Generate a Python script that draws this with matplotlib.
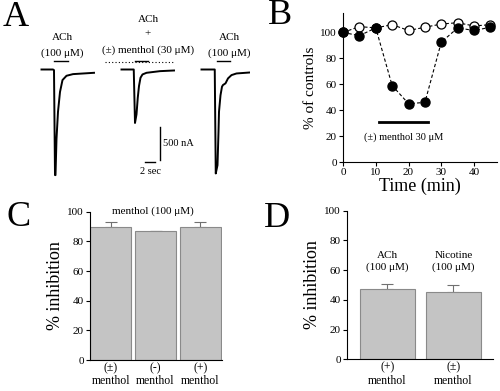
import matplotlib
matplotlib.use("Agg")
import matplotlib.pyplot as plt
import numpy as np

plt.rcParams['font.family'] = ['Liberation Serif', 'DejaVu Serif']
plt.rcParams['mathtext.fontset'] = 'stix'

W, H = 500, 391

# ---------------- data ----------------
# Panel A: current traces (time in s, current in nA)
trace1_t = [0, 2.3, 2.5, 2.7, 2.8, 3.0, 3.3, 3.7, 4.2, 5.0, 6.3, 10.5]
trace1_i = [0, 0, -10, -1600, -1600, -1050, -640, -340, -160, -95, -70, -50]
trace2_t = [0, 2.45, 2.7, 3.0, 3.25, 3.5, 3.8, 4.2, 5.0, 7.7, 10.5]
trace2_i = [0, 0, -810, -680, -430, -250, -125, -75, -50, -25, -15]
trace3_t = [0, 2.65, 2.85, 3.2, 3.4, 3.5, 3.8, 4.1, 4.3, 4.8, 5.3, 6.0, 7.0, 9.7]
trace3_i = [0, 0, -1575, -1450, -945, -640, -390, -260, -235, -210, -135, -85, -60, -45]
trace_offsets = [8.3, 24.3, 40.3]

# Panel B: time course
time_min = [0, 5, 10, 15, 20, 25, 30, 35, 40, 45]
open_vals = [100, 104.5, 103.5, 106, 101.5, 104, 106.5, 107.5, 105, 106]
filled_vals = [100, 97.5, 103.5, 59, 45, 46, 92.5, 103.5, 101.5, 104]
menthol_bar_min = [11, 26]

# Panel C
c_labels = ["(±)\nmenthol", "(-)\nmenthol", "(+)\nmenthol"]
c_vals = [90, 87.2, 89.5]
c_err = [3.3, 0.0, 3.7]

# Panel D
d_labels = ["(+)\nmenthol", "(±)\nmenthol"]
d_vals = [47, 45]
d_err = [4, 5]
d_agonists = ["ACh\n(100 μM)", "Nicotine\n(100 μM)"]


def px_rect(x0, y0, x1, y1):
    return [x0 / W, 1 - y1 / H, (x1 - x0) / W, (y1 - y0) / H]


def ft(x, y):
    return (x / W, 1 - y / H)


fig = plt.figure(figsize=(W / 100, H / 100), dpi=100)

# ---------------- Panel A ----------------
axA = fig.add_axes(px_rect(0, 0, 250, 195))
axA.set_xlim(0, 50)
axA.set_ylim(-(195 - 69.5) * 15.15, 69.5 * 15.15)
axA.axis('off')
for t, i, off in zip([trace1_t, trace2_t, trace3_t], [trace1_i, trace2_i, trace3_i], trace_offsets):
    axA.plot(np.array(t) + off, i, color='black', lw=1.4, solid_joinstyle='round')
# scale bars
axA.plot([32, 32], [-871, -1371], color='black', lw=1)
axA.plot([29, 31], [-1406, -1406], color='black', lw=1)
axA.text(32.6, -1121, "500 nA", fontsize=7.5, va='center', ha='left')
axA.text(30, -1550, "2 sec", fontsize=7.5, va='center', ha='center')
# application bars
axA.plot([10.8, 13.6], [128, 128], color='black', lw=1)
axA.plot([21, 34.6], [118, 118], color='black', lw=0.8, ls=(0, (1, 2)))
axA.plot([27.0, 29.6], [128, 128], color='black', lw=1)
axA.plot([43.4, 46.0], [128, 128], color='black', lw=1)
fig.text(*ft(62, 38), "ACh", fontsize=8, ha='center', va='center')
fig.text(*ft(62, 53), "(100 μM)", fontsize=8, ha='center', va='center')
fig.text(*ft(148, 20), "ACh", fontsize=8, ha='center', va='center')
fig.text(*ft(148, 34), "+", fontsize=8, ha='center', va='center')
fig.text(*ft(148, 50), "(±) menthol (30 μM)", fontsize=8, ha='center', va='center')
fig.text(*ft(229, 38), "ACh", fontsize=8, ha='center', va='center')
fig.text(*ft(229, 53), "(100 μM)", fontsize=8, ha='center', va='center')

# panel letters
for lab, (x, y) in zip("ABCD", [(16, 18), (280, 16), (19, 217), (277, 218)]):
    fig.text(*ft(x, y), lab, fontsize=26, ha='center', va='center')


def style(ax):
    for s in ['top', 'right']:
        ax.spines[s].set_visible(False)
    for s in ['left', 'bottom']:
        ax.spines[s].set_linewidth(0.8)
    ax.tick_params(direction='out', length=3, width=0.8, labelsize=8, pad=1.5)


# ---------------- Panel B ----------------
axB = fig.add_axes(px_rect(343, 13, 497, 162))
style(axB)
axB.set_xlim(0, 47)
axB.set_ylim(0, 115)
axB.set_xticks([0, 10, 20, 30, 40])
axB.set_yticks([0, 20, 40, 60, 80, 100])
axB.plot(time_min, open_vals, ls=(0, (3, 2)), color='black', lw=0.8, marker='o',
         mfc='white', mec='black', ms=6.5, mew=0.9, clip_on=False, zorder=3)
axB.plot(time_min, filled_vals, ls=(0, (3, 2)), color='black', lw=0.8, marker='o',
         mfc='black', mec='black', ms=6.5, clip_on=False, zorder=4)
axB.plot(menthol_bar_min, [31, 31], color='black', lw=2)
axB.text(18.5, 19, "(±) menthol 30 μM", fontsize=7.5, ha='center', va='center')
axB.set_xlabel("Time (min)", fontsize=13, labelpad=0)
axB.set_ylabel("% of controls", fontsize=11, labelpad=2)

# ---------------- Panel C ----------------
axC = fig.add_axes(px_rect(90, 211.7, 222, 360))
style(axC)
xc = np.arange(len(c_vals))
axC.bar(xc, c_vals, width=0.92, color='#c4c4c4', edgecolor='#8a8a8a', lw=0.8, zorder=2)
axC.errorbar(xc, c_vals, yerr=[np.zeros(3), c_err], fmt='none', ecolor='#707070',
             elinewidth=0.8, capsize=4, capthick=0.8, zorder=1)
axC.set_xlim(-0.47, 2.49)
axC.set_ylim(0, 100)
axC.set_yticks([0, 20, 40, 60, 80, 100])
axC.set_xticks(xc)
axC.set_xticklabels(c_labels, fontsize=8.5, linespacing=1.15)
axC.tick_params(axis='x', length=0)
axC.set_ylabel("% inhibition", fontsize=13, labelpad=2)
fig.text(*ft(153, 211), "menthol (100 μM)", fontsize=8, ha='center', va='center')

# ---------------- Panel D ----------------
axD = fig.add_axes(px_rect(347, 210.7, 493, 359.3))
style(axD)
xd = np.arange(len(d_vals))
axD.bar(xd, d_vals, width=0.833, color='#c4c4c4', edgecolor='#8a8a8a', lw=0.8, zorder=2)
axD.errorbar(xd, d_vals, yerr=[np.zeros(2), d_err], fmt='none', ecolor='#707070',
             elinewidth=0.8, capsize=4, capthick=0.8, zorder=1)
axD.set_xlim(-0.61, 1.6)
axD.set_ylim(0, 100)
axD.set_yticks([0, 20, 40, 60, 80, 100])
axD.set_xticks(xd)
axD.set_xticklabels(d_labels, fontsize=8.5, linespacing=1.15)
axD.tick_params(axis='x', length=0)
axD.set_ylabel("% inhibition", fontsize=13, labelpad=2)
for x, lab in zip(xd, d_agonists):
    axD.text(x, 66, lab, fontsize=8, ha='center', va='center', linespacing=1.3)

fig.savefig("out.png", dpi=100)
